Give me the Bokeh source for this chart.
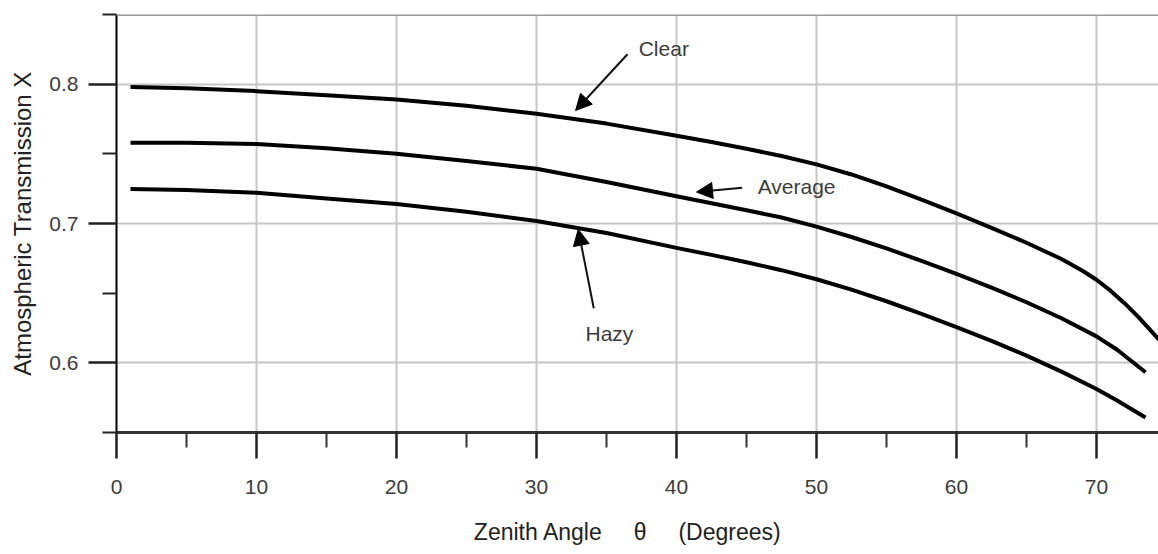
from bokeh.plotting import figure
from bokeh.models import FixedTicker, Range1d, Span, Arrow, NormalHead
from bokeh.core.properties import value
from bokeh.embed import file_html
from bokeh.resources import INLINE

# ---- data ----
clear_x = [1, 5, 10, 15, 20, 25, 30, 35, 40, 42.5, 45, 47.5, 50, 52.5, 55, 57.5,
           60, 62.5, 65, 67.5, 69, 70, 71, 72, 73, 74.5]
clear_y = [0.798, 0.797, 0.795, 0.792, 0.789, 0.7845, 0.7787, 0.7717, 0.763, 0.7585,
           0.7537, 0.7484, 0.7424, 0.7352, 0.7267, 0.7172, 0.7072, 0.6969, 0.6862,
           0.6745, 0.6661, 0.6596, 0.6518, 0.6428, 0.6328, 0.6163]

avg_x = [1, 5, 10, 15, 20, 25, 30, 35, 40, 42.5, 45, 47.5, 50, 52.5, 55, 57.5,
         60, 62.5, 65, 67.5, 70, 71.5, 73.5]
avg_y = [0.758, 0.758, 0.757, 0.754, 0.750, 0.7448, 0.7393, 0.7298, 0.7195, 0.7145,
         0.7095, 0.7043, 0.6978, 0.6903, 0.6821, 0.6732, 0.6638, 0.6539, 0.6435,
         0.632, 0.619, 0.6092, 0.5932]

hazy_x = [1, 5, 10, 15, 20, 25, 30, 35, 40, 42.5, 45, 47.5, 50, 52.5, 55, 57.5,
          60, 62.5, 65, 67.5, 70, 71.5, 73.5]
hazy_y = [0.7247, 0.724, 0.722, 0.718, 0.714, 0.7085, 0.7018, 0.6932, 0.6825, 0.6775,
          0.6722, 0.6665, 0.6600, 0.6525, 0.6442, 0.6352, 0.6257, 0.6157, 0.6052,
          0.5937, 0.5812, 0.5728, 0.5608]

x_major = [0, 10, 20, 30, 40, 50, 60, 70]
x_minor = [5, 15, 25, 35, 45, 55, 65]
y_major = [0.6, 0.7, 0.8]
y_minor = [0.55, 0.65, 0.75, 0.85]

labels = ["Clear", "Average", "Hazy"]
label_x = [37.3, 45.8, 33.5]
label_y = [0.8258, 0.7269, 0.6208]

arrow_x0 = [36.5, 44.69, 34.09]
arrow_y0 = [0.8215, 0.7257, 0.6392]
arrow_x1 = [32.79, 41.43, 32.98]
arrow_y1 = [0.7811, 0.7226, 0.6958]

FONT = "Liberation Sans"
TXT = "#3c3c3c"
NB = "\u00a0"

p = figure(width=1158, height=554, output_backend="svg", toolbar_location=None,
           x_range=Range1d(0, 1042 / 14.0), y_range=Range1d(0.55, 0.85),
           min_border_left=116, min_border_right=0, min_border_top=14,
           min_border_bottom=122)
p.outline_line_color = None
p.background_fill_color = "white"
p.border_fill_color = "white"

# grid
p.xgrid.ticker = FixedTicker(ticks=x_major[1:])
p.ygrid.ticker = FixedTicker(ticks=y_major)
p.grid.grid_line_color = "#c6c6c6"
p.grid.grid_line_width = 2

# x axis
xa = p.xaxis[0]
xa.ticker = FixedTicker(ticks=x_major, minor_ticks=x_minor)
xa.major_tick_in = 0
xa.major_tick_out = 26
xa.minor_tick_in = 0
xa.minor_tick_out = 15
xa.axis_line_color = "#333333"
xa.axis_line_width = 3
xa.major_tick_line_color = "#222222"
xa.major_tick_line_width = 2.5
xa.minor_tick_line_color = "#333333"
xa.minor_tick_line_width = 2
xa.major_label_text_font = FONT
xa.major_label_text_font_size = "21px"
xa.major_label_text_color = TXT
xa.major_label_standoff = 21
xa.axis_label = ("Zenith Angle" + NB * 5 + "\u03b8" + NB * 5 + "(Degrees)" + NB * 3)
xa.axis_label_text_font = FONT
xa.axis_label_text_font_size = "23px"
xa.axis_label_text_font_style = "normal"
xa.axis_label_text_color = "#222222"
xa.axis_label_standoff = 22

# y axis
ya = p.yaxis[0]
ya.ticker = FixedTicker(ticks=y_major, minor_ticks=y_minor)
ya.major_tick_in = 0
ya.major_tick_out = 28
ya.minor_tick_in = 0
ya.minor_tick_out = 14
ya.axis_line_color = "black"
ya.axis_line_width = 2
ya.major_tick_line_color = "#222222"
ya.major_tick_line_width = 2.5
ya.minor_tick_line_color = "#222222"
ya.minor_tick_line_width = 2
ya.major_label_text_font = FONT
ya.major_label_text_font_size = "21px"
ya.major_label_text_color = TXT
ya.major_label_standoff = 10
ya.axis_label = "Atmospheric Transmission X"
ya.axis_label_text_font = FONT
ya.axis_label_text_font_size = "24px"
ya.axis_label_text_font_style = "normal"
ya.axis_label_text_color = "#222222"
ya.axis_label_standoff = 10

# top border line
p.add_layout(Span(location=0.85, dimension="width", line_color="#9a9a9a", line_width=3))

# curves
for xs, ys in [(clear_x, clear_y), (avg_x, avg_y), (hazy_x, hazy_y)]:
    p.line(xs, ys, line_color="black", line_width=4, line_join="round")

# annotations
p.text(x=label_x, y=label_y, text=labels, text_font=value(FONT),
       text_font_size=value("21px"), text_color=TXT,
       text_align="left", text_baseline="middle")
for i in range(3):
    p.add_layout(Arrow(end=NormalHead(size=16, fill_color="black", line_color="black", line_width=1),
                       x_start=arrow_x0[i], y_start=arrow_y0[i],
                       x_end=arrow_x1[i], y_end=arrow_y1[i],
                       line_color="#111111", line_width=2))

open("out.html", "w").write(file_html(p, INLINE))
